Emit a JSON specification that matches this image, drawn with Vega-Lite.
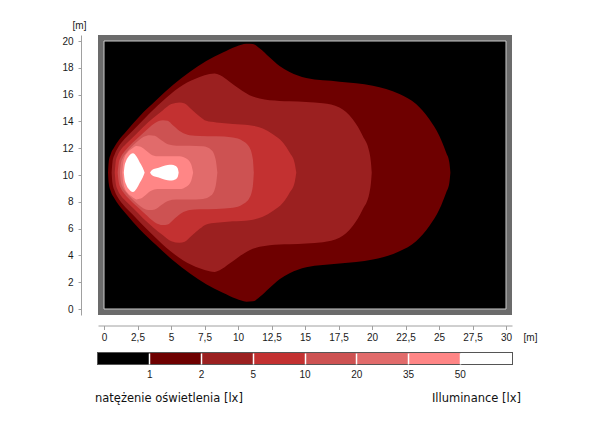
{
  "$schema": "https://vega.github.io/schema/vega-lite/v6.json",
  "background": "white",
  "padding": {"left": 61, "top": 20, "right": 5, "bottom": 5},
  "spacing": 9,
  "datasets": {
    "contours": [
      {"lv": "c1", "x": 0.30, "y": 10.18, "y2": 10.17},
      {"lv": "c1", "x": 0.35, "y": 10.95, "y2": 9.40},
      {"lv": "c1", "x": 0.50, "y": 11.55, "y2": 8.80},
      {"lv": "c1", "x": 0.76, "y": 12.07, "y2": 8.28},
      {"lv": "c1", "x": 1.10, "y": 12.59, "y2": 7.76},
      {"lv": "c1", "x": 1.67, "y": 13.27, "y2": 7.08},
      {"lv": "c1", "x": 2.66, "y": 14.39, "y2": 5.96},
      {"lv": "c1", "x": 3.91, "y": 15.59, "y2": 4.76},
      {"lv": "c1", "x": 5.14, "y": 16.71, "y2": 3.64},
      {"lv": "c1", "x": 6.39, "y": 17.68, "y2": 2.67},
      {"lv": "c1", "x": 7.63, "y": 18.50, "y2": 1.85},
      {"lv": "c1", "x": 8.87, "y": 19.14, "y2": 1.21},
      {"lv": "c1", "x": 9.87, "y": 19.59, "y2": 0.76},
      {"lv": "c1", "x": 10.62, "y": 19.80, "y2": 0.55},
      {"lv": "c1", "x": 11.11, "y": 19.78, "y2": 0.57},
      {"lv": "c1", "x": 11.61, "y": 19.45, "y2": 0.90},
      {"lv": "c1", "x": 12.35, "y": 18.78, "y2": 1.57},
      {"lv": "c1", "x": 13.10, "y": 18.13, "y2": 2.22},
      {"lv": "c1", "x": 13.85, "y": 17.68, "y2": 2.67},
      {"lv": "c1", "x": 15.09, "y": 17.23, "y2": 3.12},
      {"lv": "c1", "x": 17.57, "y": 16.96, "y2": 3.39},
      {"lv": "c1", "x": 20.06, "y": 16.66, "y2": 3.69},
      {"lv": "c1", "x": 22.05, "y": 16.04, "y2": 4.31},
      {"lv": "c1", "x": 23.29, "y": 15.29, "y2": 5.06},
      {"lv": "c1", "x": 24.28, "y": 14.16, "y2": 6.19},
      {"lv": "c1", "x": 25.03, "y": 12.91, "y2": 7.44},
      {"lv": "c1", "x": 25.53, "y": 11.67, "y2": 8.68},
      {"lv": "c1", "x": 25.77, "y": 10.95, "y2": 9.40},
      {"lv": "c1", "x": 25.85, "y": 10.18, "y2": 10.17},

      {"lv": "c2", "x": 0.57, "y": 10.18, "y2": 10.17},
      {"lv": "c2", "x": 0.63, "y": 10.95, "y2": 9.40},
      {"lv": "c2", "x": 0.80, "y": 11.55, "y2": 8.80},
      {"lv": "c2", "x": 1.06, "y": 12.07, "y2": 8.28},
      {"lv": "c2", "x": 1.39, "y": 12.52, "y2": 7.83},
      {"lv": "c2", "x": 2.14, "y": 13.30, "y2": 7.05},
      {"lv": "c2", "x": 3.41, "y": 14.61, "y2": 5.74},
      {"lv": "c2", "x": 4.65, "y": 15.77, "y2": 4.58},
      {"lv": "c2", "x": 5.89, "y": 16.71, "y2": 3.64},
      {"lv": "c2", "x": 7.14, "y": 17.31, "y2": 3.04},
      {"lv": "c2", "x": 7.88, "y": 17.53, "y2": 2.82},
      {"lv": "c2", "x": 8.25, "y": 17.58, "y2": 2.77},
      {"lv": "c2", "x": 8.63, "y": 17.46, "y2": 2.89},
      {"lv": "c2", "x": 9.37, "y": 16.96, "y2": 3.39},
      {"lv": "c2", "x": 10.12, "y": 16.41, "y2": 3.94},
      {"lv": "c2", "x": 10.86, "y": 15.96, "y2": 4.39},
      {"lv": "c2", "x": 11.61, "y": 15.71, "y2": 4.64},
      {"lv": "c2", "x": 13.10, "y": 15.53, "y2": 4.82},
      {"lv": "c2", "x": 13.85, "y": 15.51, "y2": 4.84},
      {"lv": "c2", "x": 16.33, "y": 15.36, "y2": 4.99},
      {"lv": "c2", "x": 17.57, "y": 15.04, "y2": 5.31},
      {"lv": "c2", "x": 18.56, "y": 14.16, "y2": 6.19},
      {"lv": "c2", "x": 19.31, "y": 12.91, "y2": 7.44},
      {"lv": "c2", "x": 19.81, "y": 11.67, "y2": 8.68},
      {"lv": "c2", "x": 19.92, "y": 10.95, "y2": 9.40},
      {"lv": "c2", "x": 19.98, "y": 10.18, "y2": 10.17},

      {"lv": "c3", "x": 0.80, "y": 10.18, "y2": 10.17},
      {"lv": "c3", "x": 0.87, "y": 10.95, "y2": 9.40},
      {"lv": "c3", "x": 1.02, "y": 11.47, "y2": 8.88},
      {"lv": "c3", "x": 1.28, "y": 11.92, "y2": 8.43},
      {"lv": "c3", "x": 1.62, "y": 12.29, "y2": 8.06},
      {"lv": "c3", "x": 2.16, "y": 12.82, "y2": 7.53},
      {"lv": "c3", "x": 2.91, "y": 13.57, "y2": 6.78},
      {"lv": "c3", "x": 3.65, "y": 14.24, "y2": 6.11},
      {"lv": "c3", "x": 4.40, "y": 14.84, "y2": 5.51},
      {"lv": "c3", "x": 5.03, "y": 15.29, "y2": 5.06},
      {"lv": "c3", "x": 5.64, "y": 15.41, "y2": 4.94},
      {"lv": "c3", "x": 6.02, "y": 15.34, "y2": 5.01},
      {"lv": "c3", "x": 6.52, "y": 14.91, "y2": 5.44},
      {"lv": "c3", "x": 7.14, "y": 14.37, "y2": 5.98},
      {"lv": "c3", "x": 7.63, "y": 14.04, "y2": 6.31},
      {"lv": "c3", "x": 8.38, "y": 13.92, "y2": 6.43},
      {"lv": "c3", "x": 9.62, "y": 13.81, "y2": 6.54},
      {"lv": "c3", "x": 10.86, "y": 13.72, "y2": 6.63},
      {"lv": "c3", "x": 11.85, "y": 13.47, "y2": 6.88},
      {"lv": "c3", "x": 12.60, "y": 13.04, "y2": 7.31},
      {"lv": "c3", "x": 13.35, "y": 12.42, "y2": 7.93},
      {"lv": "c3", "x": 13.85, "y": 11.67, "y2": 8.68},
      {"lv": "c3", "x": 14.22, "y": 10.92, "y2": 9.43},
      {"lv": "c3", "x": 14.35, "y": 10.18, "y2": 10.17},

      {"lv": "c4", "x": 1.02, "y": 10.18, "y2": 10.17},
      {"lv": "c4", "x": 1.10, "y": 10.87, "y2": 9.48},
      {"lv": "c4", "x": 1.25, "y": 11.32, "y2": 9.03},
      {"lv": "c4", "x": 1.51, "y": 11.73, "y2": 8.62},
      {"lv": "c4", "x": 1.84, "y": 12.11, "y2": 8.24},
      {"lv": "c4", "x": 2.42, "y": 12.67, "y2": 7.68},
      {"lv": "c4", "x": 3.03, "y": 13.23, "y2": 7.12},
      {"lv": "c4", "x": 3.78, "y": 13.87, "y2": 6.48},
      {"lv": "c4", "x": 4.40, "y": 14.09, "y2": 6.26},
      {"lv": "c4", "x": 4.75, "y": 14.05, "y2": 6.30},
      {"lv": "c4", "x": 5.14, "y": 13.72, "y2": 6.63},
      {"lv": "c4", "x": 5.77, "y": 13.21, "y2": 7.14},
      {"lv": "c4", "x": 6.39, "y": 12.97, "y2": 7.38},
      {"lv": "c4", "x": 7.14, "y": 12.91, "y2": 7.44},
      {"lv": "c4", "x": 8.38, "y": 12.89, "y2": 7.46},
      {"lv": "c4", "x": 9.62, "y": 12.80, "y2": 7.55},
      {"lv": "c4", "x": 10.36, "y": 12.54, "y2": 7.81},
      {"lv": "c4", "x": 10.86, "y": 12.05, "y2": 8.30},
      {"lv": "c4", "x": 11.11, "y": 11.17, "y2": 9.18},
      {"lv": "c4", "x": 11.18, "y": 10.18, "y2": 10.17},

      {"lv": "c5", "x": 1.19, "y": 10.18, "y2": 10.17},
      {"lv": "c5", "x": 1.25, "y": 10.80, "y2": 9.55},
      {"lv": "c5", "x": 1.39, "y": 11.25, "y2": 9.10},
      {"lv": "c5", "x": 1.64, "y": 11.62, "y2": 8.73},
      {"lv": "c5", "x": 1.99, "y": 12.03, "y2": 8.32},
      {"lv": "c5", "x": 2.51, "y": 12.52, "y2": 7.83},
      {"lv": "c5", "x": 2.96, "y": 12.85, "y2": 7.50},
      {"lv": "c5", "x": 3.41, "y": 12.97, "y2": 7.38},
      {"lv": "c5", "x": 3.78, "y": 12.93, "y2": 7.42},
      {"lv": "c5", "x": 4.28, "y": 12.59, "y2": 7.76},
      {"lv": "c5", "x": 4.77, "y": 12.29, "y2": 8.06},
      {"lv": "c5", "x": 5.40, "y": 12.18, "y2": 8.17},
      {"lv": "c5", "x": 6.39, "y": 12.18, "y2": 8.17},
      {"lv": "c5", "x": 7.38, "y": 12.14, "y2": 8.21},
      {"lv": "c5", "x": 8.01, "y": 11.87, "y2": 8.48},
      {"lv": "c5", "x": 8.33, "y": 11.17, "y2": 9.18},
      {"lv": "c5", "x": 8.46, "y": 10.18, "y2": 10.17},

      {"lv": "c6", "x": 1.36, "y": 10.18, "y2": 10.17},
      {"lv": "c6", "x": 1.42, "y": 10.80, "y2": 9.55},
      {"lv": "c6", "x": 1.54, "y": 11.32, "y2": 9.03},
      {"lv": "c6", "x": 1.77, "y": 11.70, "y2": 8.65},
      {"lv": "c6", "x": 2.07, "y": 11.96, "y2": 8.39},
      {"lv": "c6", "x": 2.42, "y": 12.17, "y2": 8.18},
      {"lv": "c6", "x": 2.74, "y": 12.11, "y2": 8.24},
      {"lv": "c6", "x": 3.11, "y": 11.84, "y2": 8.51},
      {"lv": "c6", "x": 3.48, "y": 11.55, "y2": 8.80},
      {"lv": "c6", "x": 4.00, "y": 11.40, "y2": 8.95},
      {"lv": "c6", "x": 4.90, "y": 11.40, "y2": 8.95},
      {"lv": "c6", "x": 5.64, "y": 11.40, "y2": 8.95},
      {"lv": "c6", "x": 6.17, "y": 11.21, "y2": 9.14},
      {"lv": "c6", "x": 6.50, "y": 10.80, "y2": 9.55},
      {"lv": "c6", "x": 6.65, "y": 10.18, "y2": 10.17},

      {"lv": "c7", "x": 1.48, "y": 10.18, "y2": 10.17},
      {"lv": "c7", "x": 1.52, "y": 10.57, "y2": 9.78},
      {"lv": "c7", "x": 1.64, "y": 11.02, "y2": 9.33},
      {"lv": "c7", "x": 1.85, "y": 11.40, "y2": 8.95},
      {"lv": "c7", "x": 2.16, "y": 11.62, "y2": 8.73},
      {"lv": "c7", "x": 2.44, "y": 11.36, "y2": 8.99},
      {"lv": "c7", "x": 2.66, "y": 10.95, "y2": 9.40},
      {"lv": "c7", "x": 2.89, "y": 10.54, "y2": 9.81},
      {"lv": "c7", "x": 3.03, "y": 10.18, "y2": 10.17},

      {"lv": "c8", "x": 3.44, "y": 10.18, "y2": 10.17},
      {"lv": "c8", "x": 3.56, "y": 10.35, "y2": 10.00},
      {"lv": "c8", "x": 3.78, "y": 10.46, "y2": 9.89},
      {"lv": "c8", "x": 4.08, "y": 10.54, "y2": 9.81},
      {"lv": "c8", "x": 4.38, "y": 10.65, "y2": 9.70},
      {"lv": "c8", "x": 4.75, "y": 10.74, "y2": 9.61},
      {"lv": "c8", "x": 5.05, "y": 10.76, "y2": 9.59},
      {"lv": "c8", "x": 5.31, "y": 10.69, "y2": 9.66},
      {"lv": "c8", "x": 5.50, "y": 10.50, "y2": 9.85},
      {"lv": "c8", "x": 5.57, "y": 10.18, "y2": 10.17}
    ],
    "bar": [
      {"k": 0, "range": "< 1"},
      {"k": 1, "range": "1 - 2"},
      {"k": 2, "range": "2 - 5"},
      {"k": 3, "range": "5 - 10"},
      {"k": 4, "range": "10 - 20"},
      {"k": 5, "range": "20 - 35"},
      {"k": 6, "range": "35 - 50"},
      {"k": 7, "range": "> 50"}
    ]
  },
  "vconcat": [
    {
      "width": 414,
      "height": 280,
      "view": {"fill": "#6b6b6b", "stroke": null},
      "layer": [
        {
          "data": {"values": [{}]},
          "mark": {"type": "rect", "fill": "#000000", "stroke": "#cccccc", "strokeWidth": 1},
          "encoding": {
            "x": {
              "datum": 0, "type": "quantitative",
              "scale": {"domain": [0, 30], "nice": false, "zero": false, "padding": 6},
              "axis": {
                "values": [0, 2.5, 5, 7.5, 10, 12.5, 15, 17.5, 20, 22.5, 25, 27.5, 30],
                "labelExpr": "replace(format(datum.value, '~g'), '.', ',')",
                "offset": 10.5, "tickSize": 4, "labelPadding": 3,
                "title": "[m]", "titleX": 432, "titleY": 12, "titleAlign": "center",
                "titleBaseline": "middle", "titleAngle": 0
              }
            },
            "x2": {"datum": 30},
            "y": {
              "datum": 0, "type": "quantitative",
              "scale": {"domain": [0, 20], "nice": false, "zero": false, "padding": 6},
              "axis": {
                "values": [0, 2, 4, 6, 8, 10, 12, 14, 16, 18, 20],
                "offset": 17, "tickSize": 3, "labelPadding": 5,
                "title": "[m]", "titleX": -2, "titleY": -10, "titleAlign": "center",
                "titleBaseline": "middle", "titleAngle": 0
              }
            },
            "y2": {"datum": 20}
          }
        },
        {
          "data": {"name": "contours"},
          "encoding": {
            "x": {
              "field": "x", "type": "quantitative",
              "scale": {"domain": [0, 30], "nice": false, "zero": false, "padding": 6},
              "axis": {
                "values": [0, 2.5, 5, 7.5, 10, 12.5, 15, 17.5, 20, 22.5, 25, 27.5, 30],
                "labelExpr": "replace(format(datum.value, '~g'), '.', ',')",
                "offset": 10.5, "tickSize": 4, "labelPadding": 3,
                "title": "[m]", "titleX": 432, "titleY": 12, "titleAlign": "center",
                "titleBaseline": "middle", "titleAngle": 0
              }
            },
            "y": {
              "field": "y", "type": "quantitative", "stack": null,
              "scale": {"domain": [0, 20], "nice": false, "zero": false, "padding": 6},
              "axis": {
                "values": [0, 2, 4, 6, 8, 10, 12, 14, 16, 18, 20],
                "offset": 17, "tickSize": 3, "labelPadding": 5,
                "title": "[m]", "titleX": -2, "titleY": -10, "titleAlign": "center",
                "titleBaseline": "middle", "titleAngle": 0
              }
            },
            "y2": {"field": "y2"}
          },
          "layer": [
            {"transform": [{"filter": "datum.lv == 'c1'"}], "mark": {"type": "area", "color": "#6e0000", "interpolate": "monotone"}},
            {"transform": [{"filter": "datum.lv == 'c2'"}], "mark": {"type": "area", "color": "#9b2020", "interpolate": "monotone"}},
            {"transform": [{"filter": "datum.lv == 'c3'"}], "mark": {"type": "area", "color": "#c33131", "interpolate": "monotone"}},
            {"transform": [{"filter": "datum.lv == 'c4'"}], "mark": {"type": "area", "color": "#cd5252", "interpolate": "monotone"}},
            {"transform": [{"filter": "datum.lv == 'c5'"}], "mark": {"type": "area", "color": "#e16b6b", "interpolate": "monotone"}},
            {"transform": [{"filter": "datum.lv == 'c6'"}], "mark": {"type": "area", "color": "#ff8686", "interpolate": "monotone"}},
            {"transform": [{"filter": "datum.lv == 'c7'"}], "mark": {"type": "area", "color": "#ffffff", "interpolate": "monotone"}},
            {"transform": [{"filter": "datum.lv == 'c8'"}], "mark": {"type": "area", "color": "#ffffff", "interpolate": "monotone"}}
          ]
        }
      ]
    },
    {
      "width": 414,
      "height": 11,
      "view": {"stroke": "#555555", "strokeWidth": 2},
      "layer": [
        {
          "data": {"name": "bar"},
          "mark": {"type": "rect"},
          "encoding": {
            "x": {
              "field": "k", "type": "ordinal",
              "scale": {"paddingInner": 0, "paddingOuter": 0},
              "axis": {
                "values": [1, 2, 3, 4, 5, 6, 7],
                "bandPosition": 0,
                "labelExpr": "['', '1', '2', '5', '10', '20', '35', '50'][datum.value]",
                "labelOffset": -25.9,
                "grid": true, "gridColor": "#ffffff", "gridWidth": 1.5,
                "ticks": false, "domain": false, "labelAngle": 0,
                "labelPadding": 5, "title": null, "zindex": 1
              }
            },
            "color": {
              "field": "k", "type": "ordinal",
              "scale": {
                "domain": [0, 1, 2, 3, 4, 5, 6, 7],
                "range": ["#000000", "#6e0000", "#9b2020", "#c33131", "#cd5252", "#e16b6b", "#ff8686", "#ffffff"]
              },
              "legend": null
            }
          }
        },
        {
          "data": {"values": [{"t": "natężenie oświetlenia [lx]"}]},
          "mark": {"type": "text", "align": "left", "baseline": "middle", "dx": -3, "dy": 40, "font": "DejaVu Sans", "fontSize": 11.5, "color": "#111111"},
          "encoding": {
            "x": {"datum": 0, "type": "ordinal", "bandPosition": 0},
            "text": {"field": "t"}
          }
        },
        {
          "data": {"values": [{"t": "Illuminance [lx]"}]},
          "mark": {"type": "text", "align": "right", "baseline": "middle", "dx": 9, "dy": 40, "font": "DejaVu Sans", "fontSize": 11.5, "color": "#111111"},
          "encoding": {
            "x": {"datum": 7, "type": "ordinal", "bandPosition": 1},
            "text": {"field": "t"}
          }
        }
      ]
    }
  ],
  "config": {
    "view": {"stroke": null},
    "axis": {
      "grid": false,
      "labelFont": "Liberation Sans",
      "labelFontSize": 10,
      "labelColor": "#1a1a1a",
      "titleFont": "Liberation Sans",
      "titleFontSize": 10,
      "titleFontWeight": "normal",
      "titleColor": "#1a1a1a",
      "domainColor": "#a0a0a0",
      "tickColor": "#a0a0a0",
      "labelFlush": false,
      "labelOverlap": false
    }
  }
}
